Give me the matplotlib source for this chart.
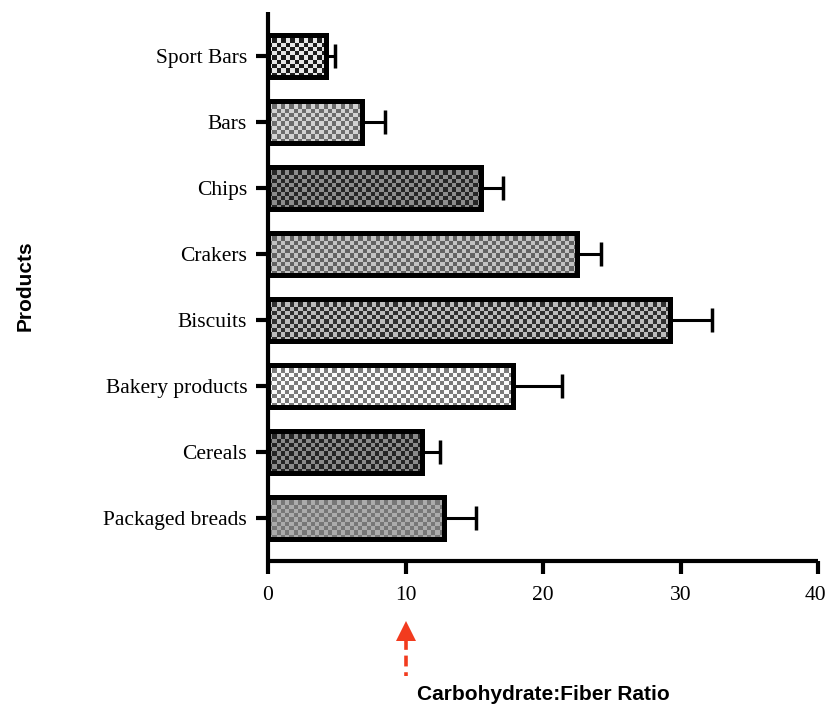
import numpy as np
import matplotlib
matplotlib.use('Agg')
import matplotlib.pyplot as plt
from matplotlib.colors import ListedColormap
from matplotlib.transforms import blended_transform_factory, ScaledTranslation

# data, bottom to top
products = ['Packaged breads', 'Cereals', 'Bakery products', 'Biscuits',
            'Crakers', 'Chips', 'Bars', 'Sport Bars']
ratio = [12.8, 11.2, 17.8, 29.2, 22.5, 15.5, 6.8, 4.2]
sd = [2.3, 1.3, 3.6, 3.1, 1.7, 1.6, 1.7, 0.7]

# checker colours (dark square, light square) for each bar
checker = [('#777777', '#ababab'),
           ('#242424', '#8a8a8a'),
           ('#7a7a7a', '#fafafa'),
           ('#303030', '#bcbcbc'),
           ('#626262', '#c2c2c2'),
           ('#262626', '#8c8c8c'),
           ('#6c6c6c', '#d2d2d2'),
           ('#1c1c1c', '#e6e6e6')]

fig = plt.figure(figsize=(8.26, 7.11), dpi=100)
ax = fig.add_axes([268 / 826, 150 / 711, 550 / 826, 549 / 711])

bar_h = 0.64
y = np.arange(len(products))
bars = ax.barh(y, ratio, height=bar_h, facecolor='none', edgecolor='black',
               linewidth=3.6, zorder=3)

# checkerboard fill, clipped to each bar
cell_px = 4.3
px_x = 550 / 40.0
px_y = 549 / (7.67 + 0.65)
for rect, val, cols, yy in zip(bars, ratio, checker, y):
    nx = max(1, int(round(val * px_x / cell_px)))
    ny = max(1, int(round(bar_h * px_y / cell_px)))
    ii, jj = np.indices((ny, nx))
    board = (ii + jj) % 2
    im = ax.imshow(board, cmap=ListedColormap(list(cols)), aspect='auto',
                   interpolation='nearest',
                   extent=(0, val, yy - bar_h / 2, yy + bar_h / 2), zorder=2)
    im.set_clip_path(rect)

ax.errorbar(ratio, y, xerr=[np.zeros(len(sd)), sd], fmt='none', ecolor='black',
            elinewidth=2.2, capsize=8.5, capthick=2.5, zorder=4)

ax.set_xlim(0, 40)
ax.set_ylim(-0.65, 7.67)
ax.set_xticks([0, 10, 20, 30, 40])
ax.set_yticks(y)
ax.set_yticklabels(products)

for s in ['top', 'right']:
    ax.spines[s].set_visible(False)
for s in ['left', 'bottom']:
    ax.spines[s].set_linewidth(3)
    ax.spines[s].set_capstyle('butt')

ax.tick_params(axis='both', length=9, width=3, color='black', labelsize=15.5)
ax.tick_params(axis='y', pad=6)
ax.tick_params(axis='x', pad=9)
for lab in ax.get_xticklabels() + ax.get_yticklabels():
    lab.set_fontfamily('Liberation Serif')

# keep the last x label inside the canvas
last = ax.get_xticklabels()[-1]
last.set_transform(last.get_transform() + ScaledTranslation(-3 / 100, 0, fig.dpi_scale_trans))

fig.text(25 / 826, 1 - 286 / 711, 'Products', rotation=90, ha='center', va='center',
         fontsize=15, fontweight='bold', family='Liberation Sans')
fig.text(543 / 826, 1 - 694 / 711, 'Carbohydrate:Fiber Ratio', ha='center', va='center',
         fontsize=15, fontweight='bold', family='Liberation Sans')

# red dashed arrow pointing at 10
trans = blended_transform_factory(ax.transData, ax.transAxes)
red = '#f23b1e'
ax.plot([10, 10], [-0.142, -0.210], transform=trans, color=red, lw=2.6,
        ls=(0, (3, 1.6)), clip_on=False)
ax.plot([10], [-0.128], transform=trans, marker='^', color=red, markersize=15,
        clip_on=False, markeredgewidth=0)

fig.savefig('out.png', dpi=100, facecolor='white')
